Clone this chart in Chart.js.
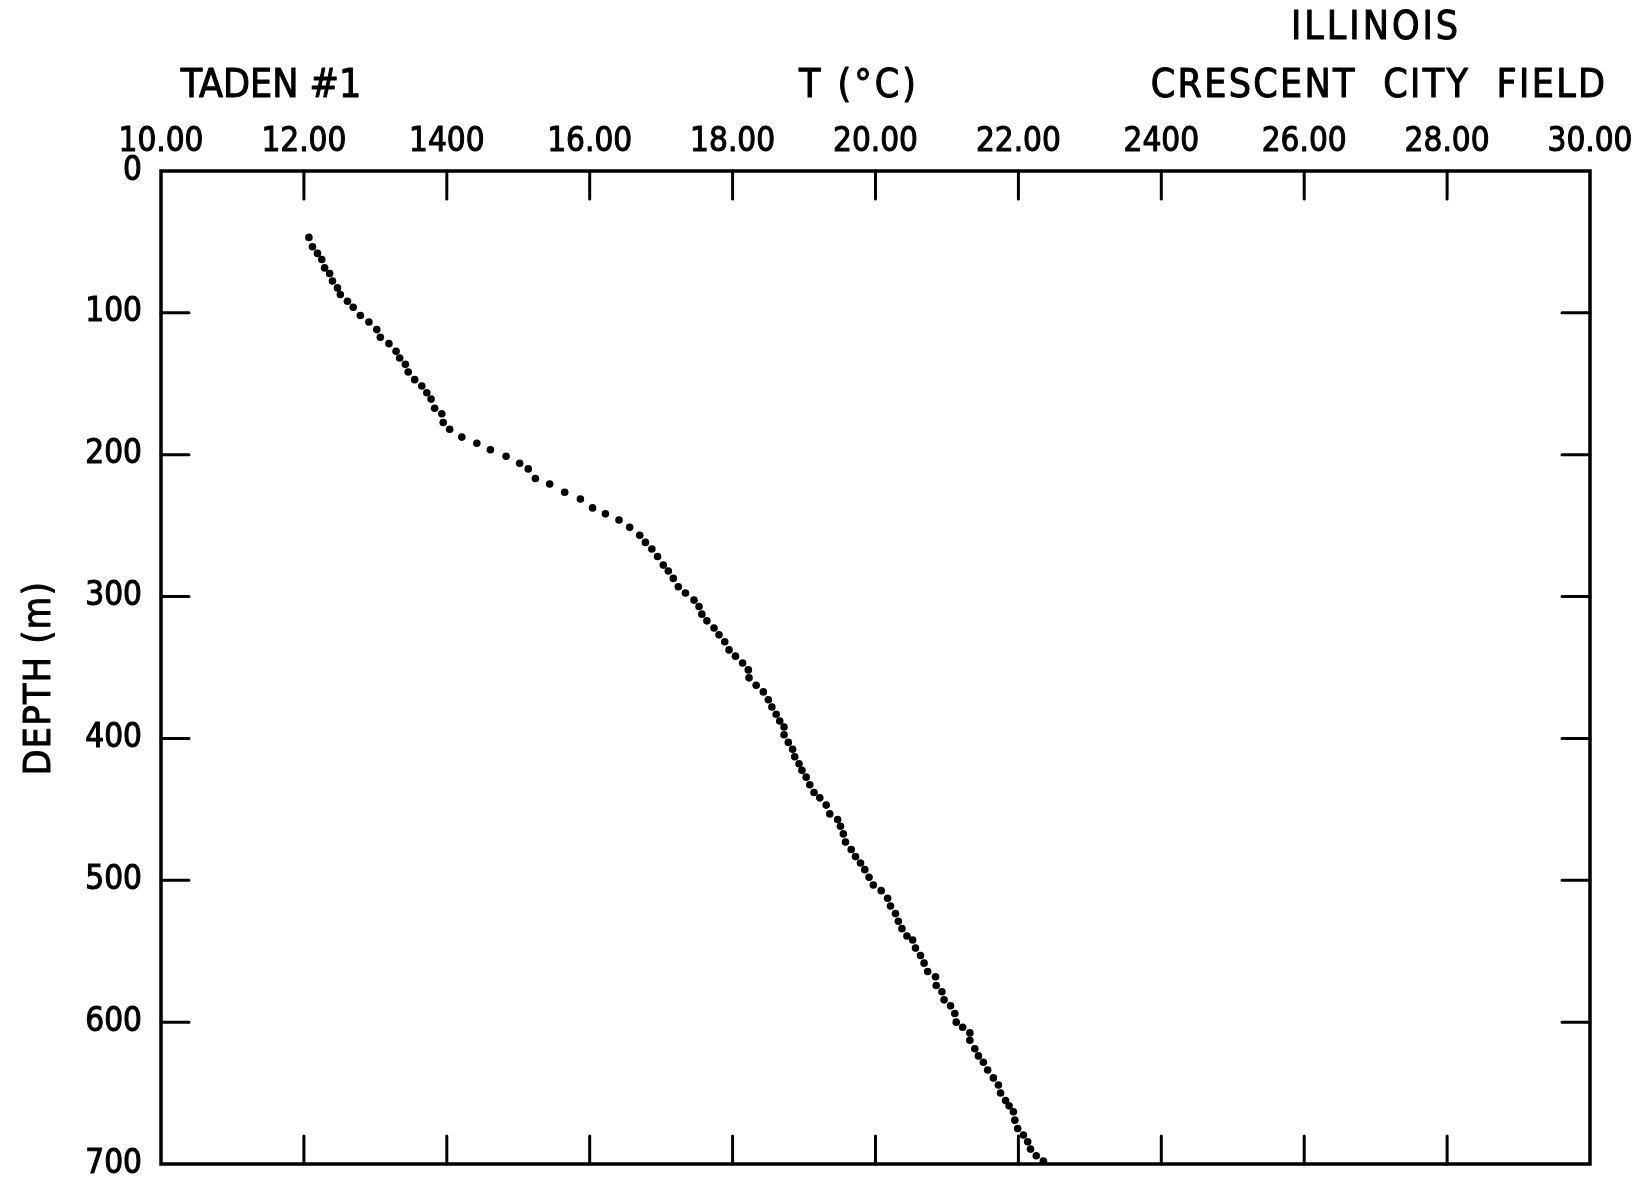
<!DOCTYPE html>
<html>
<head>
<meta charset="utf-8">
<title>Taden #1 temperature log</title>
<script src="https://cdn.jsdelivr.net/npm/chart.js@4/dist/chart.umd.min.js"></script>
<style>
  html, body { margin: 0; padding: 0; background: #fff; }
  #wrap { width: 1648px; height: 1182px; position: relative; }
</style>
</head>
<body>
<div id="wrap"><canvas id="chart"></canvas></div>
<script>
// depth of each dot (m)
const depthM = [
  46.8, 53.4, 58.1, 62.4, 68.3, 72.3, 77.5, 82.4, 87.1, 91.8,
  96.0, 101.9, 106.4, 111.8, 117.2, 121.7, 127.1, 131.8, 136.3, 141.7,
  147.1, 151.6, 156.3, 160.8, 167.2, 171.1, 177.3, 182.0, 187.6, 191.9,
  196.5, 201.1, 206.0, 210.0, 216.8, 220.6, 226.5, 231.2, 237.5, 241.7,
  246.0, 251.2, 256.8, 261.8, 266.5, 271.7, 277.8, 282.0, 287.2, 293.1,
  297.5, 302.5, 307.0, 312.4, 317.1, 322.2, 327.0, 331.9, 337.6, 342.0,
  346.8, 351.7, 357.3, 362.5, 367.2, 372.7, 377.8, 383.0, 387.7, 391.9,
  397.4, 402.8, 407.7, 412.9, 417.9, 422.5, 427.3, 432.7, 438.1, 441.9,
  447.0, 453.2, 457.1, 461.9, 467.3, 473.0, 478.3, 483.3, 487.8, 492.5,
  497.9, 503.3, 507.3, 512.7, 518.1, 523.5, 528.9, 534.1, 539.3, 542.1,
  547.8, 553.0, 558.4, 564.3, 568.0, 574.2, 578.6, 584.3, 588.5, 593.9,
  600.0, 603.6, 607.6, 612.8, 618.8, 623.8, 628.3, 633.7, 639.3, 644.3,
  650.0, 655.2, 659.0, 663.2, 669.1, 675.0, 679.6, 684.3, 689.5, 694.2,
  698.0
];

// temperature at each dot (deg C)
const tempC = [
  12.07, 12.12, 12.19, 12.25, 12.29, 12.36, 12.40, 12.47, 12.51, 12.61,
  12.69, 12.79, 12.91, 13.02, 13.07, 13.19, 13.29, 13.34, 13.42, 13.46,
  13.55, 13.65, 13.72, 13.78, 13.83, 13.93, 13.95, 14.04, 14.21, 14.42,
  14.61, 14.83, 15.02, 15.14, 15.24, 15.44, 15.65, 15.87, 16.04, 16.22,
  16.41, 16.56, 16.70, 16.78, 16.87, 16.95, 17.03, 17.10, 17.17, 17.24,
  17.34, 17.46, 17.53, 17.57, 17.64, 17.74, 17.81, 17.89, 17.95, 18.04,
  18.14, 18.22, 18.23, 18.33, 18.43, 18.50, 18.55, 18.61, 18.66, 18.72,
  18.72, 18.78, 18.84, 18.87, 18.93, 18.97, 19.03, 19.08, 19.14, 19.22,
  19.31, 19.36, 19.47, 19.51, 19.55, 19.58, 19.66, 19.72, 19.79, 19.85,
  19.91, 19.97, 20.08, 20.17, 20.21, 20.28, 20.32, 20.37, 20.44, 20.52,
  20.56, 20.63, 20.68, 20.73, 20.84, 20.85, 20.93, 20.96, 21.05, 21.11,
  21.13, 21.22, 21.32, 21.32, 21.39, 21.44, 21.51, 21.57, 21.65, 21.72,
  21.75, 21.82, 21.87, 21.93, 21.95, 21.99, 22.07, 22.13, 22.17, 22.25,
  22.35
];

// axis labels as lettered on the original
const tempTicks = [10, 12, 14, 16, 18, 20, 22, 24, 26, 28, 30];
const tempTickLabels = ["10.00", "12.00", "1400", "16.00", "18.00", "20.00",
  "22.00", "2400", "26.00", "28.00", "30.00"];
const depthTicks = [0, 100, 200, 300, 400, 500, 600, 700];

const FONT = "'DejaVu Sans Condensed', 'DejaVu Sans', sans-serif";

function letter(ctx, text, x, y) {
  ctx.strokeText(text, x, y);
  ctx.fillText(text, x, y);
}

// frame + inward tick marks + the lettered titles
const framePlugin = {
  id: "frame",
  afterDraw(chart) {
    const { ctx, chartArea: a, scales } = chart;
    const xs = scales.x, ys = scales.y;
    ctx.save();
    ctx.strokeStyle = "#000";
    ctx.lineCap = "square";
    ctx.lineWidth = 3.5;
    ctx.strokeRect(a.left, a.top, a.right - a.left, a.bottom - a.top);

    ctx.lineWidth = 3;
    ctx.lineCap = "round";
    const tl = 28;
    tempTicks.slice(1, -1).forEach((v) => {
      const px = xs.getPixelForValue(v);
      ctx.beginPath();
      ctx.moveTo(px, a.top); ctx.lineTo(px, a.top + tl);
      ctx.moveTo(px, a.bottom); ctx.lineTo(px, a.bottom - tl);
      ctx.stroke();
    });
    depthTicks.slice(1, -1).forEach((v) => {
      const py = ys.getPixelForValue(v);
      ctx.beginPath();
      ctx.moveTo(a.left, py); ctx.lineTo(a.left + tl, py);
      ctx.moveTo(a.right, py); ctx.lineTo(a.right - tl, py);
      ctx.stroke();
    });

    // titles
    ctx.fillStyle = "#000";
    ctx.lineWidth = 1;
    ctx.lineJoin = "round";
    ctx.textBaseline = "alphabetic";
    ctx.textAlign = "center";
    ctx.font = "39px " + FONT;
    ctx.letterSpacing = "0px";
    letter(ctx, "TADEN #1", 271, 97);
    ctx.letterSpacing = "3px";
    letter(ctx, "T (°C)", 859, 97);
    letter(ctx, "ILLINOIS", 1376, 39);
    ctx.letterSpacing = "2.3px";
    ctx.wordSpacing = "13px";
    letter(ctx, "CRESCENT CITY FIELD", 1379, 97);
    ctx.wordSpacing = "0px";
    ctx.letterSpacing = "1.5px";

    ctx.font = "37px " + FONT;
    ctx.translate(50, 678);
    ctx.rotate(-Math.PI / 2);
    letter(ctx, "DEPTH (m)", 0, 0);
    ctx.restore();
  }
};

const points = depthM.map((d, i) => ({ x: tempC[i], y: d }));

new Chart(document.getElementById("chart"), {
  type: "scatter",
  data: {
    datasets: [{
      data: points,
      backgroundColor: "#000",
      borderColor: "#000",
      pointRadius: 3.8,
      pointHoverRadius: 3.8,
      borderWidth: 0,
      showLine: false
    }]
  },
  options: {
    responsive: true,
    maintainAspectRatio: false,
    animation: false,
    layout: { padding: { top: 0, left: 0, right: 58, bottom: 18 } },
    plugins: { legend: { display: false }, tooltip: { enabled: false } },
    scales: {
      x: {
        type: "linear",
        position: "top",
        min: 10,
        max: 30,
        afterBuildTicks: (s) => { s.ticks = tempTicks.map((v) => ({ value: v })); },
        afterFit: (s) => { s.height = 171; },
        ticks: {
          color: "#000",
          font: { family: FONT, size: 33 },
          textStrokeColor: "#000",
          textStrokeWidth: 1,
          padding: 9,
          maxRotation: 0,
          autoSkip: false,
          callback: (v) => tempTickLabels[tempTicks.indexOf(v)]
        },
        grid: { display: false, drawTicks: false },
        border: { display: false }
      },
      y: {
        type: "linear",
        reverse: true,
        min: 0,
        max: 700,
        afterBuildTicks: (s) => { s.ticks = depthTicks.map((v) => ({ value: v })); },
        afterFit: (s) => { s.width = 161; s.paddingTop = 0; s.paddingBottom = 0; },
        ticks: {
          color: "#000",
          font: { family: FONT, size: 33 },
          textStrokeColor: "#000",
          textStrokeWidth: 1,
          padding: 19,
          autoSkip: false
        },
        grid: { display: false, drawTicks: false },
        border: { display: false }
      }
    }
  },
  plugins: [framePlugin]
});
</script>
</body>
</html>
